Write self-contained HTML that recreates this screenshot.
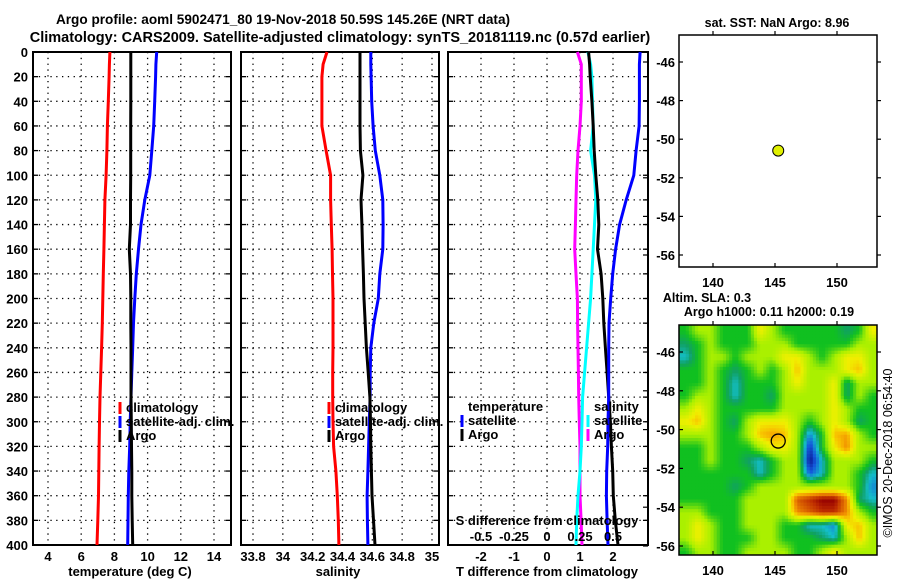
<!DOCTYPE html>
<html><head><meta charset="utf-8"><style>
html,body{margin:0;padding:0;background:#fff;}
svg{display:block;font-family:"Liberation Sans",Arial,sans-serif;font-weight:bold;}
</style></head><body>
<svg id="s" width="900" height="580" viewBox="0 0 900 580" xmlns="http://www.w3.org/2000/svg">
<defs>
<clipPath id="mapclip"><rect x="679" y="325" width="198" height="230"/></clipPath>
</defs>
<text x="283" y="24" text-anchor="middle" font-size="13.6">Argo profile: aoml 5902471_80 19-Nov-2018 50.59S 145.26E (NRT data)</text>
<text x="340" y="42" text-anchor="middle" font-size="14.5">Climatology: CARS2009. Satellite-adjusted climatology: synTS_20181119.nc (0.57d earlier)</text>
<g id="plots"></g>
<text transform="translate(892,453) rotate(-90)" text-anchor="middle" font-size="12.5" font-weight="normal">©IMOS 20-Dec-2018 06:54:40</text>
</svg>
<script>
// ---- data ----
const depthTicks=[0,20,40,60,80,100,120,140,160,180,200,220,240,260,280,300,320,340,360,380,400];
const tempTicks=[4,6,8,10,12,14];
const salTicks=[33.8,34,34.2,34.4,34.6,34.8,35];
const salTickLabels=["33.8","34","34.2","34.4","34.6","34.8","35"];
const tdiffTicks=[-2,-1,0,1,2];
const sdiffTicks=[-0.5,-0.25,0,0.25,0.5];
const sdiffTickLabels=["-0.5","-0.25","0","0.25","0.5"];
const profDepth=[0,10,20,40,60,80,100,120,140,160,180,200,220,240,260,280,300,320,340,360,380,400];
const tempClim=[7.73,7.7,7.68,7.63,7.58,7.55,7.5,7.43,7.4,7.37,7.33,7.3,7.27,7.23,7.18,7.13,7.1,7.08,7.06,7.04,7.0,6.95];
const tempArgo=[8.99,8.99,8.99,8.99,8.98,8.98,8.98,8.97,8.97,8.9,8.97,8.99,8.99,9.0,9.0,9.0,9.02,9.03,9.05,9.05,9.07,9.1];
const tempSat=[10.55,10.5,10.48,10.43,10.37,10.25,10.13,9.83,9.6,9.45,9.32,9.23,9.15,9.1,9.05,9.0,8.95,8.92,8.87,8.84,8.82,8.8];
const salClim=[34.296,34.27,34.262,34.262,34.262,34.29,34.32,34.32,34.325,34.33,34.333,34.336,34.336,34.336,34.334,34.334,34.336,34.34,34.356,34.365,34.372,34.376];
const salArgo=[34.517,34.517,34.517,34.517,34.517,34.52,34.537,34.524,34.53,34.535,34.54,34.544,34.552,34.56,34.572,34.584,34.588,34.59,34.594,34.598,34.608,34.618];
const salSat=[34.59,34.59,34.592,34.596,34.605,34.62,34.65,34.67,34.672,34.67,34.65,34.64,34.61,34.59,34.586,34.585,34.58,34.575,34.57,34.565,34.567,34.57];
const tdiffSat=[2.82,2.8,2.8,2.8,2.79,2.7,2.63,2.4,2.2,2.08,1.99,1.93,1.88,1.87,1.87,1.87,1.85,1.84,1.81,1.8,1.82,1.85];
const tdiffArgo=[1.26,1.29,1.31,1.36,1.4,1.43,1.48,1.54,1.57,1.53,1.64,1.69,1.72,1.77,1.82,1.87,1.92,1.95,1.99,2.01,2.07,2.15];
const sdiffSat=[0.31,0.33,0.34,0.345,0.35,0.33,0.36,0.37,0.36,0.35,0.34,0.33,0.315,0.3,0.285,0.27,0.265,0.26,0.25,0.235,0.225,0.22];
const sdiffArgo=[0.23,0.26,0.26,0.26,0.25,0.235,0.225,0.22,0.215,0.21,0.22,0.23,0.232,0.235,0.238,0.24,0.245,0.25,0.25,0.25,0.258,0.265];
const lonTicks=[140,145,150];
const latTicks=[-46,-48,-50,-52,-54,-56];
const floatLon=145.26, floatLat=-50.59;
// SLA grid: rows from north (-44.6) to south, 16 cols lon 137.3..153.3
const slaGrid=[
[0,1,1,0,0,0,2,1,0,0,0,0,0,-0.5,0,2],
[-0.5,0,1,0,0,0,1,1,1,0,0,0,0,0,1,1],
[-1,0,1,1,0,1,1,1,2,2,1,0,1,2,2,1],
[0,0,1,0,-0.5,0,1,0,1,2.5,1,1,1,2,2.5,1],
[0,0,1,0,-1,0,0,0,1,2,1,1,2,-0.5,1,1],
[0,1,1,0,-1,0,0,-0.5,1,1,1,1,2,-0.5,1,0],
[1,2,1,0,0,0,0,0,1,1,1,1,2,1,0,0],
[2,2.5,1,0,-0.5,1,2,2,2,1,0,1,2,1,-0.5,0],
[1,1,1,0,0,1,2.5,2.8,2.5,1,-1.5,0,2.5,2.8,1,0],
[0,0,1,0,0,0,1,2,2,1,-2.5,0,2,3,1,1],
[0,0,1,0,0,-0.5,-1,0,1,1,-3,-1,1,1,1,0],
[0,0,0,0,0,0,-1,0,1,1,-2,-1,1,1,0,-1],
[0,0,0,0,-0.5,0,1,1,1,1,1,1,1,1,0,-1.5],
[0,0,0,0,0,1,1,1,1,3.5,4,4.5,4.5,3,-0.5,-1],
[1,1,0,0,0,1,1,1,1,3,3.5,4,4,3,1,0],
[1,2,1,0,0,1,1,1,0,0,-1,-1,-1.5,2,2.5,1],
[1,2,1,0,0,0,1,1,0,0,0,-0.5,-1,1,2.5,1],
[0,1,1,0,0,1,1,1,1,0,0,1,2,1,1,1]];

// ---- helpers ----
const NS="http://www.w3.org/2000/svg";
const root=document.getElementById('plots');
function mk(tag,attrs,parent){const e=document.createElementNS(NS,tag);for(const k in attrs)e.setAttribute(k,attrs[k]);(parent||root).appendChild(e);return e;}
function txt(x,y,s,anchor,size,parent){const e=mk('text',{x:x,y:y,'text-anchor':anchor||'middle','font-size':size||13},parent);e.textContent=s;return e;}
function lin(d0,d1,r0,r1){return v=>r0+(v-d0)*(r1-r0)/(d1-d0);}
const T=52,B=545;
const yD=lin(0,400,T,B);

function panel(name,L,R,xs,ticks,labels,showY){
  const g=mk('g',{});
  
  
  depthTicks.forEach(d=>{
    if(d>0&&d<400){const l=mk('line',{x1:L,x2:R,y1:yD(d),y2:yD(d),stroke:'#000','stroke-width':1.3,'stroke-dasharray':'1.3,4.5'},g);
    }
    mk('line',{x1:L,x2:L+5,y1:yD(d),y2:yD(d),stroke:'#000','stroke-width':1.3},g);
    mk('line',{x1:R-5,x2:R,y1:yD(d),y2:yD(d),stroke:'#000','stroke-width':1.3},g);
    if(showY){const t=txt(L-5,yD(d)+5,String(d),'end',13,g);}
  });
  ticks.forEach((v,i)=>{
    const x=xs(v);
    const l=mk('line',{x1:x,x2:x,y1:T,y2:B,stroke:'#000','stroke-width':1.3,'stroke-dasharray':'1.3,4.5'},g);
    
    if(labels){const t=txt(x,561,labels[i],'middle',13,g);}
  });
  const b=mk('rect',{x:L,y:T,width:R-L,height:B-T,fill:'none',stroke:'#000','stroke-width':2},g);
  
  return g;
}
function profile(g,xs,vals,color,name){
  let pts=vals.map((v,i)=>xs(v).toFixed(1)+','+yD(profDepth[i]).toFixed(1)).join(' ');
  const p=mk('polyline',{points:pts,fill:'none',stroke:color,'stroke-width':3},g);
  
  
}
function legend(g,x,y,items){
  items.forEach((it,i)=>{
    const yy=y+i*14;
    if(it.c){const m=mk('line',{x1:x,x2:x,y1:yy-10,y2:yy+2,stroke:it.c,'stroke-width':3},g);
    }
    const t=txt(x+6,yy,it.t,'start',13,g);
    
  });
}

// Panel 1 temperature
const xT=lin(4,14,48,214);
const g1=panel('temperature-panel',33,231,xT,tempTicks,tempTicks.map(String),true);
profile(g1,xT,tempClim,'#ff0000','temp-climatology-line');
profile(g1,xT,tempSat,'#0000ff','temp-satellite-line');
profile(g1,xT,tempArgo,'#000000','temp-argo-line');
legend(g1,120,412,[{c:'#f00',t:'climatology'},{c:'#00f',t:'satellite-adj. clim.'},{c:'#000',t:'Argo'}]);
let at=txt(130,576,'temperature (deg C)','middle',13,g1);

// Panel 2 salinity
const xS=lin(33.8,35,253,432);
const g2=panel('salinity-panel',241,439,xS,salTicks,salTickLabels,false);
profile(g2,xS,salClim,'#ff0000','sal-climatology-line');
profile(g2,xS,salSat,'#0000ff','sal-satellite-line');
profile(g2,xS,salArgo,'#000000','sal-argo-line');
legend(g2,329,412,[{c:'#f00',t:'climatology'},{c:'#00f',t:'satellite-adj. clim.'},{c:'#000',t:'Argo'}]);
at=txt(338,576,'salinity','middle',13,g2);

// Panel 3 differences
const xTd=lin(-2,2,481,613);
const xSd=lin(-0.5,0.5,481,613);
const g3=panel('difference-panel',448,648,xTd,tdiffTicks,tdiffTicks.map(String),false);
profile(g3,xSd,sdiffArgo,'#ff00ff','sdiff-argo-line');
profile(g3,xSd,sdiffSat,'#00ffff','sdiff-satellite-line');
profile(g3,xTd,tdiffArgo,'#000000','tdiff-argo-line');
profile(g3,xTd,tdiffSat,'#0000ff','tdiff-satellite-line');
legend(g3,462,411,[{t:'temperature'},{c:'#00f',t:'satellite'},{c:'#000',t:'Argo'}]);
legend(g3,588,411,[{t:'salinity'},{c:'#0ff',t:'satellite'},{c:'#f0f',t:'Argo'}]);
at=txt(547,525,'S difference from climatology','middle',13,g3);
sdiffTicks.forEach((v,i)=>{const t=txt(xSd(v),541,sdiffTickLabels[i],'middle',13,g3);});
at=txt(547,576,'T difference from climatology','middle',13,g3);

// Maps
const mL=679,mR=877;
const xLon=lin(140,150,713,837);
function mapAxes(g,yLat,top,bot){
  latTicks.forEach(v=>{
    const y=yLat(v);
    const t=txt(675,y+5,String(v),'end',13,g);
    mk('line',{x1:mL,x2:mL+4,y1:y,y2:y,stroke:'#000','stroke-width':1.2},g);
    mk('line',{x1:mR,x2:mR+4,y1:y,y2:y,stroke:'#000','stroke-width':1.2},g);
    mk('line',{x1:643,x2:648,y1:y,y2:y,stroke:'#000','stroke-width':1.2},g);
  });
  lonTicks.forEach(v=>{
    const x=xLon(v);
    const t=txt(x,bot+20,String(v),'middle',13,g);
    mk('line',{x1:x,x2:x,y1:top-4,y2:top,stroke:'#000','stroke-width':1.2},g);
    mk('line',{x1:x,x2:x,y1:bot-4,y2:bot,stroke:'#000','stroke-width':1.2},g);
  });
  const b=mk('rect',{x:mL,y:top,width:mR-mL,height:bot-top,fill:'none',stroke:'#000','stroke-width':1.5},g);
  
}
// SST map
const gm1=mk('g',{});


let mt=txt(777,27,'sat. SST: NaN Argo: 8.96','middle',12.5,gm1);
const yLat1=lin(-46,-56,62,255);
mapAxes(gm1,yLat1,35,267);
let c1=mk('circle',{cx:xLon(floatLon),cy:yLat1(floatLat),r:5.5,fill:'#e0f000',stroke:'#000','stroke-width':1},gm1);


// SLA map
const gm2=mk('g',{});


mt=txt(707,302,'Altim. SLA: 0.3','middle',12.5,gm2);
mt=txt(769,316,'Argo h1000: 0.11 h2000: 0.19','middle',12.5,gm2);
const yLat2=lin(-46,-56,352,546);
const stops=[[-3,[10,20,140]],[-2,[20,90,220]],[-1,[20,190,200]],[-0.5,[16,160,100]],[0,[16,192,32]],[1,[170,240,0]],[2,[240,240,0]],[2.5,[248,192,0]],[3,[240,140,0]],[4,[192,48,0]],[4.5,[150,0,0]]];
function cmap(v){
  if(v<=stops[0][0])return stops[0][1];
  for(let i=1;i<stops.length;i++){if(v<=stops[i][0]){const a=stops[i-1],b=stops[i];const f=(v-a[0])/(b[0]-a[0]);return a[1].map((c,k)=>Math.round(c+(b[1][k]-c)*f));}}
  return stops[stops.length-1][1];
}
const heat=mk('g',{'clip-path':'url(#mapclip)'},gm2);


const lon0=137.3,dLon=1,lat0=-44.6,dLat=12/18;
const nR=slaGrid.length,nC=slaGrid[0].length;
function gv(r,c){return slaGrid[Math.min(nR-1,Math.max(0,r))][Math.min(nC-1,Math.max(0,c))];}
function sample(fr,fc){ // bilinear in cell-centre coordinates
  const r0=Math.floor(fr),c0=Math.floor(fc),tr=fr-r0,tc=fc-c0;
  return gv(r0,c0)*(1-tr)*(1-tc)+gv(r0,c0+1)*(1-tr)*tc+gv(r0+1,c0)*tr*(1-tc)+gv(r0+1,c0+1)*tr*tc;
}
const SUB=4;
for(let r=0;r<nR*SUB;r++){for(let c=0;c<nC*SUB;c++){
  const fr=(r+0.5)/SUB-0.5, fc=(c+0.5)/SUB-0.5;
  const v=sample(fr,fc);
  const x0=xLon(lon0+c*dLon/SUB),x1=xLon(lon0+(c+1)*dLon/SUB);
  const y0=yLat2(lat0-r*dLat/SUB),y1=yLat2(lat0-(r+1)*dLat/SUB);
  const col=cmap(v);
  const cell=mk('rect',{x:x0.toFixed(2),y:y0.toFixed(2),width:(x1-x0+0.5).toFixed(2),height:(y1-y0+0.5).toFixed(2),fill:'rgb('+col.join(',')+')'},heat);
  
  
}}
mapAxes(gm2,yLat2,325,555);
let c2=mk('circle',{cx:xLon(floatLon),cy:yLat2(floatLat),r:7,fill:'none',stroke:'#000','stroke-width':1.3},gm2);

</script>
</body></html>
